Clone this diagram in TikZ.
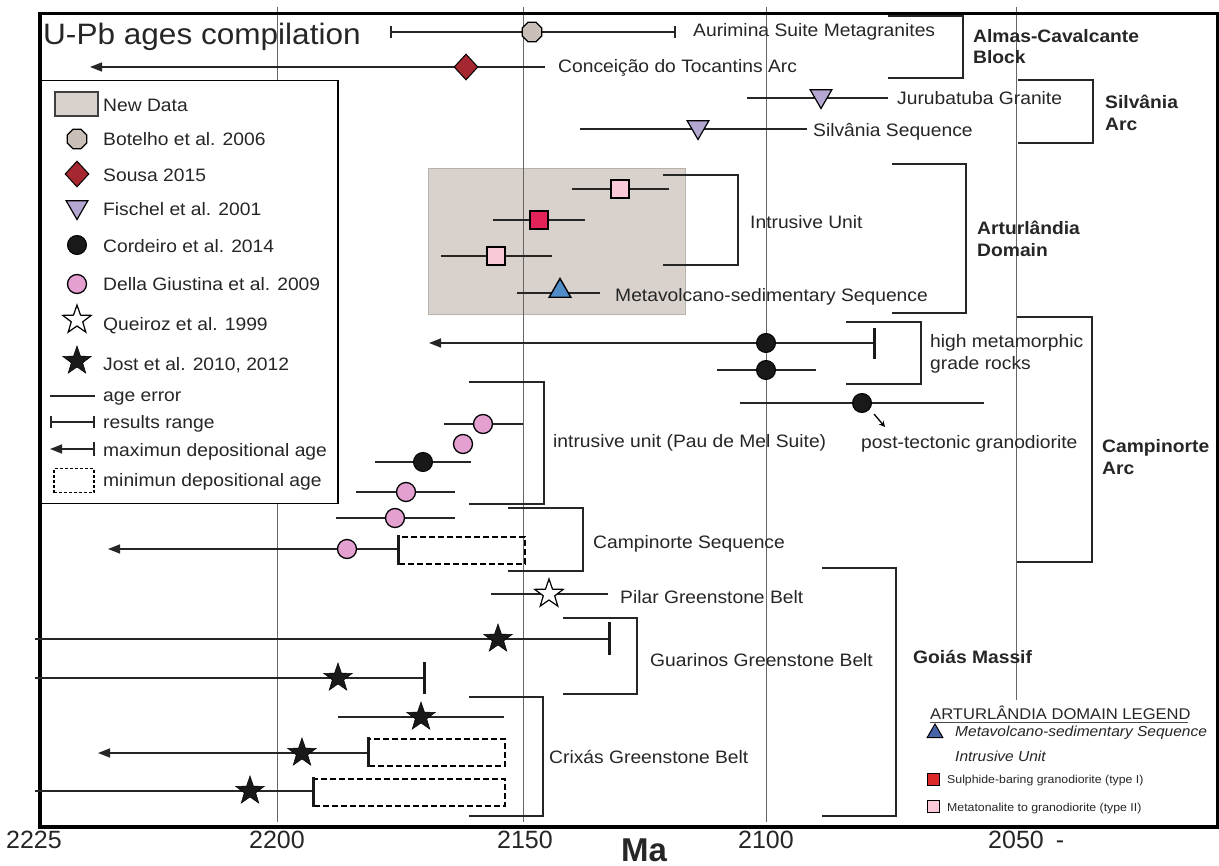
\documentclass[tikz,border=0pt]{standalone}
\usepackage{fontspec}
\setmainfont[FakeStretch=1.07]{Liberation Sans}
\newfontfamily\axfont{Liberation Sans}
\usetikzlibrary{shapes.geometric,arrows.meta}
\definecolor{octfill}{RGB}{200,192,184}
\definecolor{diafill}{RGB}{165,40,48}
\definecolor{lavfill}{RGB}{180,168,210}
\definecolor{pinkfill}{RGB}{228,160,208}
\definecolor{sqpink}{RGB}{250,200,215}
\definecolor{sqred}{RGB}{225,35,90}
\definecolor{triblue}{RGB}{80,140,200}
\definecolor{legblue}{RGB}{72,100,168}
\definecolor{newdata}{RGB}{217,210,204}
\definecolor{legred}{RGB}{220,40,40}
\newcommand{\myebar}[4]{\coordinate (#1-l) at (#2,#4); \coordinate (#1-r) at (#3,#4); \draw[dataline] (#1-l) -- (#1-r);}
\newcommand{\mytbar}[4]{\coordinate (#1-t) at (#2,#3); \coordinate (#1-b) at (#2,#4); \draw[thickbar] (#1-t) -- (#1-b);}
\newcommand{\mybrk}[5]{\coordinate (#1-a) at (#2,#4); \coordinate (#1-b) at (#3,#4); \coordinate (#1-c) at (#3,#5); \coordinate (#1-d) at (#2,#5); \draw[bracket] (#1-a) -- (#1-b) -- (#1-c) -- (#1-d);}
\begin{document}
\begin{tikzpicture}[x=1pt,y=-1pt,
  dataline/.style={line width=1.6pt, black!85},
  thickbar/.style={line width=3pt, black!90},
  bracket/.style={line width=1.6pt, black!85},
  gridline/.style={line width=0.8pt, black!60},
  lbl/.style={font=\fontsize{18}{20}\selectfont, anchor=base west, inner sep=0, text=black!85},
  blbl/.style={font=\bfseries\fontsize{18}{20}\selectfont, anchor=base west, inner sep=0, text=black!85},
  axlbl/.style={font=\axfont\fontsize{25}{27}\selectfont, anchor=base, inner sep=0, text=black!85},
  octm/.style={regular polygon, regular polygon sides=8, draw, fill=octfill, minimum size=21pt, inner sep=0, line width=1.2pt},
  diam/.style={diamond, draw, fill=diafill, minimum width=24pt, minimum height=26pt, inner sep=0, line width=1pt},
  trim/.style={regular polygon, regular polygon sides=3, shape border rotate=180, draw, fill=lavfill, minimum size=25pt, inner sep=0, line width=1.2pt},
  triup/.style={regular polygon, regular polygon sides=3, draw, fill=triblue, minimum size=25pt, inner sep=0, line width=1.4pt},
  bcirc/.style={circle, draw, fill=black!90, minimum size=19pt, inner sep=0, line width=1pt},
  pcirc/.style={circle, draw, fill=pinkfill, minimum size=19pt, inner sep=0, line width=1.3pt},
  psq/.style={rectangle, draw, fill=sqpink, minimum size=18pt, inner sep=0, line width=1.3pt},
  rsq/.style={rectangle, draw, fill=sqred, minimum size=18pt, inner sep=0, line width=1.3pt},
  bstar/.style={star, star points=5, star point ratio=2.5, draw, fill=black!90, minimum size=30pt, inner sep=0, line width=0.5pt},
  wstar/.style={star, star points=5, star point ratio=2.5, draw, fill=white, minimum size=30pt, inner sep=0, line width=1.2pt},
  dbox/.style={draw, dashed, dash pattern=on 6pt off 3pt, line width=2pt},
  maxarr/.style={dataline, {Triangle[length=12pt,width=9pt]}-},
  rng/.style={dataline, {Bar[width=12pt]}-{Bar[width=12pt]}}
]
\useasboundingbox (0,0) rectangle (1219,866);
\fill[white] (0,0) rectangle (1219,866);

% New data area
\node[draw=newdata!85!black, fill=newdata, line width=0.8pt, minimum width=257pt, minimum height=146pt, anchor=north west, inner sep=0] (newarea) at (428,168) {};

% grid lines
\coordinate (g1t) at (277,7); \coordinate (g1b) at (277,822);
\coordinate (g2t) at (523,7); \coordinate (g2b) at (523,822);
\coordinate (g3t) at (766,7); \coordinate (g3b) at (766,822);
\coordinate (g4t) at (1016,7); \coordinate (g4b) at (1016,700);
\draw[gridline] (g1t) -- (g1b);
\draw[gridline] (g2t) -- (g2b);
\draw[gridline] (g3t) -- (g3b);
\draw[gridline] (g4t) -- (g4b);

% frame
\node[draw, line width=3.5pt, minimum width=1178pt, minimum height=813pt, anchor=north west, inner sep=0] (frame) at (38,12) {};

% title
\node[font=\fontsize{29.5}{31}\selectfont, anchor=base west, inner sep=0, text=black!85] (title) at (43,45) {U-Pb ages compilation};

% ---- Almas-Cavalcante block
\coordinate (aur-l) at (390,32); \coordinate (aur-r) at (676,32);
\draw[rng] (aur-l) -- (aur-r);
\node[octm] (aur) at (532,32) {};
\node[lbl] (t-aur) at (693,37) {Aurimina Suite Metagranites};
\coordinate (con-l) at (90,67); \coordinate (con-r) at (545,67);
\draw[maxarr] (con-l) -- (con-r);
\node[diam] (con) at (466,67) {};
\node[lbl] (t-con) at (558,73) {Conceição do Tocantins Arc};
\mybrk{bac}{888}{963}{16}{78}
\node[blbl] (t-alm1) at (973,43) {Almas-Cavalcante};
\node[blbl] (t-alm2) at (973,64) {Block};

% ---- Silvania arc
\myebar{jur}{747}{888}{98}
\node[trim] (jur) at (821,96) {};
\node[lbl] (t-jur) at (897,105) {Jurubatuba Granite};
\myebar{sil}{580}{807}{129}
\node[trim] (sil) at (698,127) {};
\node[lbl] (t-sil) at (813,137) {Silvânia Sequence};
\mybrk{bsil}{1018}{1093}{80}{143}
\node[blbl] (t-sa1) at (1105,109) {Silvânia};
\node[blbl] (t-sa2) at (1105,131) {Arc};

% ---- Arturlandia domain (new data)
\myebar{n1}{572}{669}{189}
\node[psq] (n1) at (620,189) {};
\myebar{n2}{493}{585}{220}
\node[rsq] (n2) at (539,220) {};
\myebar{n3}{441}{552}{256}
\node[psq] (n3) at (496,256) {};
\myebar{n4}{517}{600}{293}
\node[triup] (n4) at (560,291) {};
\node[lbl] (t-mvs) at (615,302) {Metavolcano-sedimentary Sequence};
\mybrk{biu}{663}{738}{175}{265}
\node[lbl] (t-iu) at (750,229) {Intrusive Unit};
\mybrk{bart}{892}{966}{164}{313}
\node[blbl] (t-ad1) at (977,235) {Arturlândia};
\node[blbl] (t-ad2) at (977,257) {Domain};

% ---- Campinorte arc
\coordinate (hm1-l) at (429,343); \coordinate (hm1-r) at (874,343);
\draw[maxarr] (hm1-l) -- (hm1-r);
\mytbar{hm1bar}{874}{328}{359}
\node[bcirc] (hm1) at (766,343) {};
\myebar{hm2}{717}{816}{370}
\node[bcirc] (hm2) at (766,370) {};
\mybrk{bhm}{846}{921}{322}{384}
\node[lbl] (t-hm1) at (930,348) {high metamorphic};
\node[lbl] (t-hm2) at (930,370) {grade rocks};
\myebar{pt}{740}{984}{403}
\node[bcirc] (pt) at (862,403) {};
\coordinate (ptarr-s) at (874,414); \coordinate (ptarr-e) at (885,427);
\draw[line width=1.3pt, -{Stealth[length=6pt,width=6pt]}] (ptarr-s) -- (ptarr-e);
\node[lbl] (t-pt) at (861,449) {post-tectonic granodiorite};
\mybrk{bca}{1017}{1092}{317}{562}
\node[blbl] (t-ca1) at (1102,453) {Campinorte};
\node[blbl] (t-ca2) at (1102,475) {Arc};

% Pau de Mel
\myebar{pm1}{444}{523}{424}
\node[pcirc] (pm1) at (483,424) {};
\node[pcirc] (pm2) at (463,444) {};
\myebar{pm3}{375}{471}{462}
\node[bcirc] (pm3) at (423,462) {};
\myebar{pm4}{356}{455}{492}
\node[pcirc] (pm4) at (406,492) {};
\myebar{pm5}{336}{455}{518}
\node[pcirc] (pm5) at (395,518) {};
\mybrk{bpm}{469}{544}{382}{504}
\node[lbl] (t-pm) at (553,448) {intrusive unit (Pau de Mel Suite)};

% Campinorte sequence
\node[dbox, minimum width=126pt, minimum height=27pt, anchor=north west, inner sep=0] (cs-box) at (398,536) {};
\coordinate (cs-l) at (108,549); \coordinate (cs-r) at (398,549);
\draw[maxarr] (cs-l) -- (cs-r);
\mytbar{csbar}{398}{535}{565}
\node[pcirc] (cs) at (347,549) {};
\mybrk{bcs}{508}{583}{508}{571}
\node[lbl] (t-cs) at (593,548) {Campinorte Sequence};

% ---- Goias massif
\myebar{pil}{491}{608}{594}
\node[wstar] (pil) at (549,594) {};
\node[lbl] (t-pil) at (620,603) {Pilar Greenstone Belt};

\myebar{gu1}{35}{609}{639}
\mytbar{gu1bar}{609}{622}{655}
\node[bstar] (gu1) at (498,639) {};
\myebar{gu2}{35}{424}{678}
\mytbar{gu2bar}{424}{662}{694}
\node[bstar] (gu2) at (338,678) {};
\mybrk{bgu}{563}{637}{618}{694}
\node[lbl] (t-gu) at (650,666) {Guarinos Greenstone Belt};

\myebar{cr1}{338}{504}{717}
\node[bstar] (cr1) at (421,717) {};
\node[dbox, minimum width=136pt, minimum height=27pt, anchor=north west, inner sep=0] (cr2-box) at (368,738) {};
\coordinate (cr2-l) at (98,753); \coordinate (cr2-r) at (368,753);
\draw[maxarr] (cr2-l) -- (cr2-r);
\mytbar{cr2bar}{368}{737}{767}
\node[bstar] (cr2) at (302,753) {};
\node[dbox, minimum width=191pt, minimum height=27pt, anchor=north west, inner sep=0] (cr3-box) at (313,778) {};
\myebar{cr3}{35}{313}{791}
\mytbar{cr3bar}{313}{777}{807}
\node[bstar] (cr3) at (250,791) {};
\mybrk{bcr}{469}{543}{697}{816}
\node[lbl] (t-cr) at (549,763) {Crixás Greenstone Belt};

\mybrk{bgo}{822}{896}{568}{816}
\node[blbl] (t-go) at (913,663) {Goiás Massif};

% ---- legend box
\node[draw, fill=white, line width=1.5pt, minimum width=297pt, minimum height=423pt, anchor=north west, inner sep=0] (legend) at (40,80) {};
\node[draw=black!75, fill=newdata, line width=1.5pt, minimum width=43pt, minimum height=24pt, inner sep=0] (l-nd) at (76.5,104) {};
\node[lbl] (lt-nd) at (103,112) {New Data};
\node[octm] (l-oct) at (77,139) {};
\node[lbl] (lt-oct) at (103,146) {Botelho et al. 2006};
\node[diam] (l-dia) at (77,174) {};
\node[lbl] (lt-dia) at (103,182) {Sousa 2015};
\node[trim] (l-tri) at (77,207) {};
\node[lbl] (lt-tri) at (103,216) {Fischel et al. 2001};
\node[bcirc] (l-bc) at (77,245) {};
\node[lbl] (lt-bc) at (103,253) {Cordeiro et al. 2014};
\node[pcirc] (l-pc) at (77,284) {};
\node[lbl] (lt-pc) at (103,291) {Della Giustina et al. 2009};
\node[wstar] (l-ws) at (77,320) {};
\node[lbl] (lt-ws) at (103,331) {Queiroz et al. 1999};
\node[bstar] (l-bs) at (77,361) {};
\node[lbl] (lt-bs) at (103,371) {Jost et al. 2010, 2012};
\myebar{l-ae}{50}{95}{396}
\node[lbl] (lt-ae) at (103,402) {age error};
\coordinate (l-rr-l) at (50,422); \coordinate (l-rr-r) at (95,422);
\draw[rng] (l-rr-l) -- (l-rr-r);
\node[lbl] (lt-rr) at (103,429) {results range};
\coordinate (l-ma-l) at (50,449); \coordinate (l-ma-r) at (95,449);
\draw[dataline, {Triangle[length=12pt,width=9pt]}-{Bar[width=14pt]}] (l-ma-l) -- (l-ma-r);
\node[lbl] (lt-ma) at (103,457) {maximun depositional age};
\node[draw, dashed, dash pattern=on 3pt off 2pt, line width=1.5pt, minimum width=40pt, minimum height=24pt, anchor=north west, inner sep=0] (l-mi) at (53,468) {};
\node[lbl] (lt-mi) at (103,487) {minimun depositional age};

% ---- Arturlandia legend
\node[font=\fontsize{15.5}{17}\selectfont, anchor=base west, inner sep=0, text=black!85] (al-title) at (930,719) {ARTURLÂNDIA DOMAIN LEGEND};
\coordinate (al-ul-l) at (930,722); \coordinate (al-ul-r) at (1188,722);
\draw[line width=0.8pt, black!70] (al-ul-l) -- (al-ul-r);
\node[regular polygon, regular polygon sides=3, draw, fill=legblue, minimum size=18pt, inner sep=0, line width=1pt] (al-tri) at (935,733) {};
\node[font=\itshape\fontsize{14.5}{16}\selectfont, anchor=base west, inner sep=0, text=black!85] (al-mvs) at (955,736) {Metavolcano-sedimentary Sequence};
\node[font=\itshape\fontsize{14.5}{16}\selectfont, anchor=base west, inner sep=0, text=black!85] (al-iu) at (955,761) {Intrusive Unit};
\node[rectangle, draw, fill=legred, minimum size=12pt, inner sep=0, line width=1pt] (al-rs) at (933,779) {};
\node[font=\fontsize{11.5}{13}\selectfont, anchor=base west, inner sep=0, text=black!85] (al-t1) at (947,783) {Sulphide-baring granodiorite (type I)};
\node[rectangle, draw, fill=sqpink, minimum size=12pt, inner sep=0, line width=1pt] (al-ps) at (933,806) {};
\node[font=\fontsize{11.5}{13}\selectfont, anchor=base west, inner sep=0, text=black!85] (al-t2) at (947,811) {Metatonalite to granodiorite (type II)};

% ---- axis labels
\node[axlbl] (ax1) at (34,848) {2225};
\node[axlbl] (ax2) at (277,848) {2200};
\node[axlbl] (ax3) at (525,848) {2150};
\node[axlbl] (ax4) at (766,848) {2100};
\node[axlbl] (ax5) at (1016,848) {2050};
\node[axlbl] (ax6) at (1060,848) {-};
\node[font=\axfont\bfseries\fontsize{33}{35}\selectfont, anchor=base, inner sep=0, text=black!85] (ma) at (644,861) {Ma};
\end{tikzpicture}
\end{document}
